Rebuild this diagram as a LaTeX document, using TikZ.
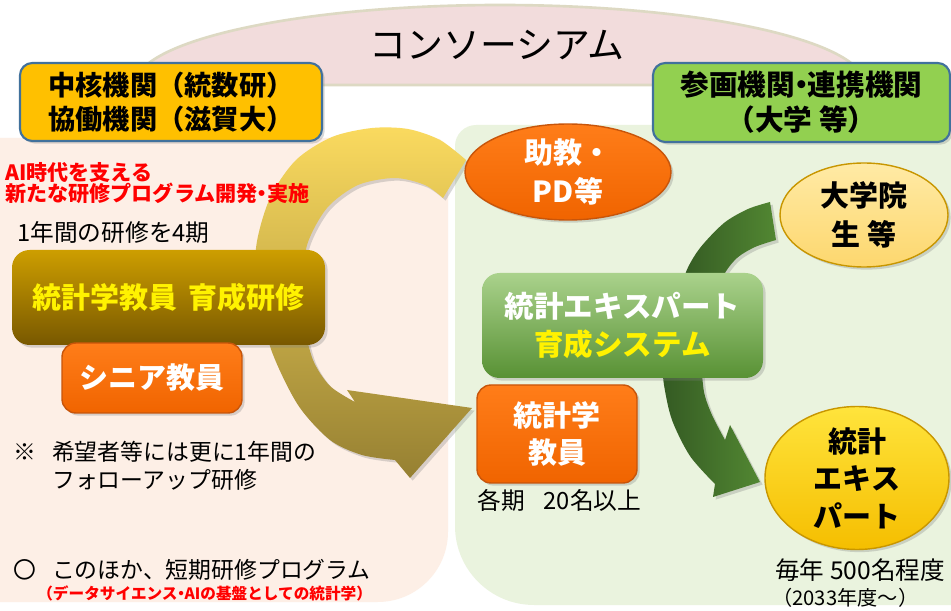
\documentclass[tikz,border=0pt]{standalone}
\usepackage{fontspec}
\setmainfont{Noto Sans CJK JP}
\usetikzlibrary{shapes.geometric, shadows}

\definecolor{archfill}{RGB}{242,220,220}
\definecolor{archline}{RGB}{221,217,195}
\definecolor{peachbg}{RGB}{253,239,230}
\definecolor{greenbg}{RGB}{234,243,222}
\definecolor{coreorange}{RGB}{255,192,0}
\definecolor{boxline}{RGB}{65,113,156}
\definecolor{partnergreen}{RGB}{146,208,80}
\definecolor{brownhi}{RGB}{205,158,0}
\definecolor{brownlo}{RGB}{120,88,0}
\definecolor{orangehi}{RGB}{255,125,25}
\definecolor{orangelo}{RGB}{240,100,0}
\definecolor{orangeline}{RGB}{200,85,10}
\definecolor{syshi}{RGB}{170,210,140}
\definecolor{syslo}{RGB}{88,145,52}
\definecolor{palegold}{RGB}{255,234,165}
\definecolor{palegoldlo}{RGB}{253,215,110}
\definecolor{goldhi}{RGB}{255,228,60}
\definecolor{goldlo}{RGB}{245,190,0}
\definecolor{goldline}{RGB}{200,150,0}
\definecolor{arrowhi}{RGB}{250,218,95}
\definecolor{arrowlo}{RGB}{150,128,50}
\definecolor{arrowgreenA}{RGB}{52,90,35}
\definecolor{arrowgreenB}{RGB}{82,135,50}

\newcommand{\fsz}[2]{\fontsize{#1}{#2}\selectfont}
\newcommand{\dotsep}{\makebox[0.45em]{・}}
\def\pix{0.02cm}

\tikzset{
  softshadow/.style={drop shadow={opacity=0.3, shadow xshift=1.5pt, shadow yshift=-1.5pt}},
  headbox/.style={draw=boxline, line width=1.2pt, rounded corners=7pt, inner sep=0pt, align=center, font=\bfseries\fsz{15.5}{19.5}, softshadow},
  orangebox/.style={rounded corners=8pt, top color=orangehi, bottom color=orangelo, draw=orangeline, line width=0.8pt, inner sep=0pt, align=center, text=white, font=\bfseries\fsz{16.5}{21.5}, softshadow},
  ovalnode/.style={ellipse, inner sep=0pt, align=center, line width=0.8pt, font=\bfseries\fsz{16.5}{22}, softshadow},
  notetext/.style={inner sep=0pt, anchor=west, align=left, font=\fsz{13}{16}}
}

\begin{document}
\begin{tikzpicture}[x=\pix, y=-\pix]
	\useasboundingbox (0,0) rectangle (951,611);
	\fill[white] (0,0) rectangle (951,611);
	
	\fill[peachbg] (0,138) [rounded corners=8pt] -- (448,138) [rounded corners=40pt] -- (448,602) [sharp corners] -- (0,602) -- cycle;
	\fill[greenbg] (951,125) [rounded corners=12pt] -- (455,125) [rounded corners=45pt] -- (455,605) [sharp corners] -- (951,605) -- cycle;
	
	\filldraw[fill=archfill, draw=archline, line width=1.5pt] (135,85) arc[start angle=180, end angle=360, x radius=365, y radius=80] -- cycle;
	\node (consortium) at (497,45) {\fsz{21}{24}コンソーシアム};
	
	\shade[top color=arrowhi, bottom color=arrowlo, softshadow] plot[smooth] coordinates {(466,160) (440,140) (408,129) (372,128) (332,137) (296,160) (270,198) (256,248) (259,300) (272,352) (298,405) (330,440) (362,455) (395,460)}
		-- (410,478) -- (472,408) -- (347,390) -- (355,402)
		-- plot[smooth] coordinates {(355,402) (330,386) (313,360) (303,320) (302,290) (307,245) (327,208) (358,185) (395,178) (425,185) (443,198)} -- cycle;
	
	\shade[left color=arrowgreenA, right color=arrowgreenB, softshadow] plot[smooth] coordinates {(680,300) (686,272) (700,248) (724,223) (748,209) (770,202)}
		-- (776,240) -- plot[smooth] coordinates {(776,240) (755,247) (737,258) (724,275) (718,300)} -- cycle;
	\shade[left color=arrowgreenA, right color=arrowgreenB, softshadow] plot[smooth] coordinates {(662,360) (664,385) (672,420) (690,456) (715,484)}
		-- (713,497) -- (760,482) -- (730,425) -- (725,440)
		-- plot[smooth] coordinates {(725,440) (712,415) (704,392) (701,360)} -- cycle;
	
	\node[headbox, fill=coreorange, minimum width=302*\pix, minimum height=78*\pix] (core) at (171,102) {中核機関（統数研）\\協働機関（滋賀大）};
	\node[headbox, fill=partnergreen, minimum width=297*\pix, minimum height=79*\pix, font=\bfseries\fsz{16.3}{19.8}] (partner) at (801.5,102.5) {参画機関\dotsep 連携機関\\（大学 等）};
	
	\node[notetext, text=red, font=\bfseries\fsz{12}{12.3}] (aitext) at (5,183) {AI時代を支える\\新たな研修プログラム開発\dotsep 実施};
	\node[notetext, font=\fsz{13.5}{16}] (fouryear) at (17,232) {1年間の研修を4期};
	
	\node[rounded corners=10pt, top color=brownhi, bottom color=brownlo, inner sep=0pt, minimum width=313*\pix, minimum height=95*\pix, text=yellow, font=\bfseries\fsz{16.5}{20}, softshadow] (training) at (168.5,297.5) {統計学教員\hspace{0.4em}育成研修};
	\node[orangebox, minimum width=180*\pix, minimum height=70*\pix] (senior) at (152,378) {シニア教員};
	
	\node[notetext] (followup) at (13,466) {\makebox[1.7em][l]{※}希望者等には更に1年間の\\\hspace{1.7em}フォローアップ研修};
	\node[notetext] (shortterm) at (13,570) {\makebox[1.7em][l]{〇}このほか、短期研修プログラム};
	\node[notetext, text=red, font=\bfseries\fsz{8.9}{10}] (shortnote) at (37,593) {（データサイエンス\dotsep AIの基盤としての統計学）};
	
	\node[ovalnode, top color=orangehi, bottom color=orangelo, draw=orangeline, text=white, minimum width=206*\pix, minimum height=96*\pix] (postdoc) at (568,172) {助教・\\PD等};
	\node[ovalnode, top color=palegold, bottom color=palegoldlo, draw=goldline, minimum width=168*\pix, minimum height=104*\pix] (grad) at (864,215) {大学院\\生 等};
	\node[ovalnode, top color=goldhi, bottom color=goldlo, draw=goldline, minimum width=184*\pix, minimum height=136*\pix, font=\bfseries\fsz{16.5}{21.3}] (expert) at (857,478) {統計\\エキス\\パート};
	
	\node[rounded corners=10pt, top color=syshi, bottom color=syslo, inner sep=0pt, minimum width=281*\pix, minimum height=105*\pix, align=center, text=white, font=\bfseries\fsz{16.8}{21.5}, softshadow] (system) at (622.5,325.5) {統計エキスパート\\\textcolor{yellow}{育成システム}};
	\node[orangebox, minimum width=160*\pix, minimum height=98*\pix] (teacher) at (557,434) {統計学\\教員};
	
	\node[notetext, font=\fsz{13.5}{16}] (perterm) at (477,500) {各期\hspace{0.8em}20名以上};
	\node[notetext, font=\fsz{14}{16}] (annual) at (775,570) {毎年 500名程度};
	\node[notetext, font=\fsz{11.5}{13}] (since) at (772,598) {（2033年度～）};
\end{tikzpicture}
\end{document}
